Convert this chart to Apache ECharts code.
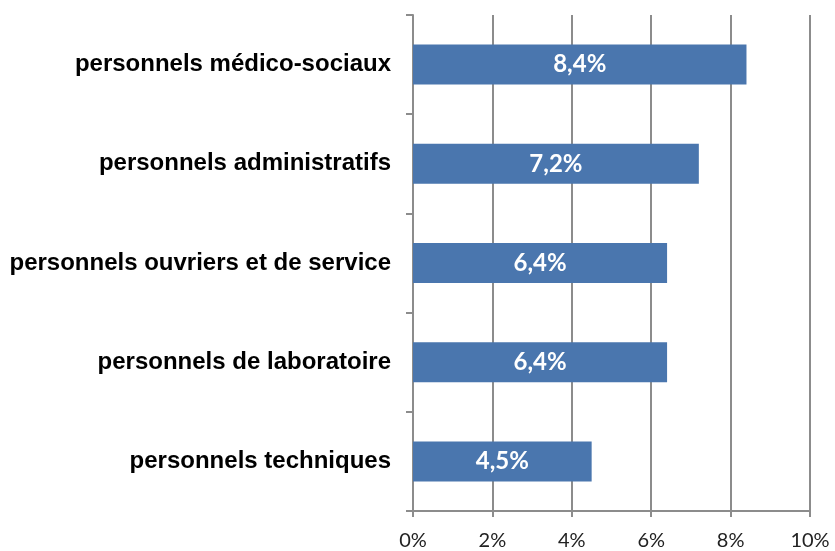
<!DOCTYPE html>
<html>
<head>
<meta charset="utf-8">
<script src="https://cdn.jsdelivr.net/npm/echarts@6/dist/echarts.min.js"></script>
<style>
  html, body { margin: 0; padding: 0; background: #ffffff; }
  #chart { width: 835px; height: 551px; }
</style>
</head>
<body>
<div id="chart"></div>
<script>
// Categories listed bottom to top (category axis on y grows upward)
const categories = [
  'personnels techniques',
  'personnels de laboratoire',
  'personnels ouvriers et de service',
  'personnels administratifs',
  'personnels médico-sociaux'
];
const values = [4.5, 6.4, 6.4, 7.2, 8.4];
const xTicks = [0, 2, 4, 6, 8, 10];

const chart = echarts.init(document.getElementById('chart'));
const axisGray = '#8c8c8c';

chart.setOption({
  animation: false,
  grid: { left: 413, right: 25, top: 15, bottom: 40, containLabel: false },
  xAxis: {
    type: 'value',
    min: xTicks[0],
    max: xTicks[xTicks.length - 1],
    interval: 2,
    axisLine: { show: true, lineStyle: { color: axisGray, width: 2 } },
    axisTick: { show: true, length: 6, lineStyle: { color: axisGray, width: 2 } },
    splitLine: { show: true, lineStyle: { color: axisGray, width: 2 } },
    axisLabel: {
      margin: 20,
      fontFamily: 'Lato, "Open Sans", sans-serif',
      fontSize: 20,
      color: '#222',
      formatter: v => v + '%'
    }
  },
  yAxis: {
    type: 'category',
    data: categories,
    axisLine: { show: true, lineStyle: { color: axisGray, width: 2 } },
    axisTick: { show: true, length: 7, inside: false, lineStyle: { color: axisGray, width: 2 } },
    axisLabel: {
      margin: 22,
      fontFamily: '"Liberation Sans", Arial, sans-serif',
      fontWeight: 'bold',
      fontSize: 24,
      color: '#000'
    }
  },
  series: [{
    type: 'bar',
    data: values,
    barWidth: 40,
    itemStyle: { color: '#4a76ae' },
    label: {
      show: true,
      position: 'inside',
      color: '#ffffff',
      fontFamily: 'Lato, "Open Sans", sans-serif',
      fontWeight: 'bold',
      fontSize: 24,
      formatter: p => p.value.toFixed(1).replace('.', ',') + '%'
    }
  }]
});
</script>
</body>
</html>
